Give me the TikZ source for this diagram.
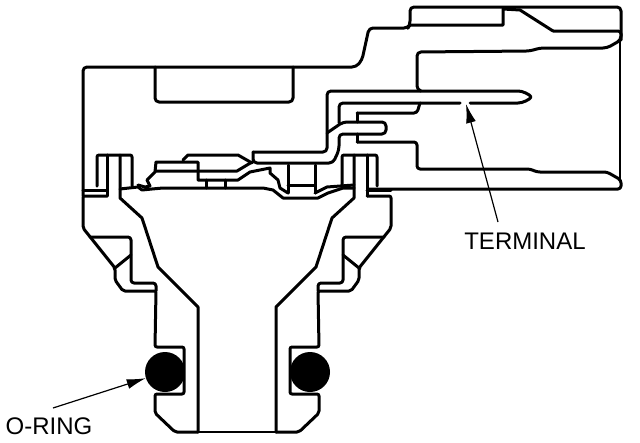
\documentclass[tikz,border=0pt]{standalone}
\usepackage{fontspec}
\setmainfont{Liberation Sans}
\usetikzlibrary{arrows.meta}
\tikzset{
  wall/.style={line width=3pt,line join=round,line cap=round},
  hairline/.style={line width=1.3pt},
  pointer/.style={line width=1.2pt,-{Latex[length=19pt,width=10pt]}},
  oring/.style={circle,fill=black,draw=none,minimum size=40pt,inner sep=0pt},
  callout/.style={font=\fontsize{24}{26}\selectfont,inner sep=0pt}
}
% one half of the port, drawn for the left side
\newcommand{\porthalf}{
  % post
  \draw[wall,rounded corners=2pt] (97,186) -- (97,155) -- (132,155) -- (132,186);
  \draw[wall] (107,155) -- (107,196);
  % body inner edge
  \draw[wall] (120,155) -- (120,198) -- (142,218) -- (158,267) -- (198,307) -- (198,432);
  % housing skirt
  \draw[wall] (83,190) -- (107,190);
  \draw[wall,rounded corners=2pt] (107,196) -- (83,196) -- (83,228) -- (115,268) -- (115,280) -- (123,291) -- (156,291) -- (155,347) -- (184,347)
    -- (184,394) -- (155,394) -- (155,413) -- (175,432) -- (198,432);
  \draw[wall,rounded corners=3pt] (90,237) -- (131,237) -- (131,283) -- (156,283) -- (156,291);
  \draw[wall] (115,268) -- (131,255);
}
\begin{document}
\begin{tikzpicture}[x=1pt,y=-1pt]
  \useasboundingbox (0,0) rectangle (640,442);
  % both halves
  \porthalf
  \begin{scope}[shift={(474,0)},xscale=-1]
    \porthalf
  \end{scope}
  \draw[hairline] (198,432) -- (276,432);
  % shell
  \draw[wall,rounded corners=4pt] (83,196) -- (83,67) -- (356,67)
    -- (362,60) -- (369,28) -- (408,28) -- (410,25) -- (410,7) -- (621,7) -- (621,40) -- (607,48) -- (540,48) -- (530,51)
    -- (417,52) -- (417,90) -- (421,91);
  \draw[wall,rounded corners=4pt] (155,67) -- (155,102) -- (293,102) -- (293,67);
  \draw[wall] (410,25) -- (503,25) -- (503,9) -- (520,10) -- (553,31);
  \draw[wall,rounded corners=3pt] (553,31) -- (621,31) -- (621,40);
  \draw[hairline] (620,40) -- (620,182);
  \draw[wall,rounded corners=3pt] (357,113) -- (417,113) -- (420,103);
  \draw[wall] (357,113) -- (357,122);
  \draw[wall] (357,134) -- (357,142);
  \draw[wall,rounded corners=3pt] (357,142) -- (417,142) -- (417,169) -- (530,169) -- (537,172) -- (607,172) -- (621,180)
    -- (621,189) -- (368,189);
  % terminal
  \draw[wall,rounded corners=4pt] (253,152) -- (327,152) -- (327,91) -- (522,91) -- (533,97) -- (522,103) -- (470,103);
  \draw[wall,rounded corners=4pt] (460,103) -- (339,103) -- (339,123);
  \draw[wall,rounded corners=4pt] (253,152) -- (253,163) -- (333,163) -- (339,150) -- (339,134) -- (386,134)
    -- (386,122) -- (343,122) -- (327,133);
  % floor of the cavity
  \draw[wall] (120,189) -- (138,187) -- (142,190) -- (152,189) -- (163,188) -- (263,188) -- (273,190) -- (283,198)
    -- (318,198) -- (328,193) -- (343,188) -- (354,188);
  \draw[wall] (138,185) -- (145,187) -- (150,186) -- (147,180) -- (155,172) -- (156,162) -- (198,162) -- (198,180)
    -- (238,180) -- (250,172) -- (270,168) -- (270,173) -- (278,180) -- (280,188) -- (288,193);
  \draw[wall] (156,171) -- (237,171) -- (252,162);
  \draw[wall] (183,160) -- (188,155) -- (238,155) -- (252,163);
  \draw[wall] (206,180) -- (206,188);
  \draw[wall] (225,180) -- (225,188);
  \draw[wall] (288,165) -- (288,193) (315,165) -- (315,193) (288,185) -- (315,185);
  \draw[wall] (315,193) -- (327,187) -- (354,185);
  % seals and callouts
  \node[oring] (ringleft) at (165,372) {};
  \node[oring] (ringright) at (310,372) {};
  \node[callout] (terminallabel) at (525,241) {TERMINAL};
  \node[callout] (oringlabel) at (49,426) {O-RING};
  \coordinate (terminaltail) at (498,222);
  \coordinate (terminaltip) at (466,104);
  \coordinate (oringtail) at (53,408);
  \draw[pointer] (terminaltail) -- (terminaltip);
  \draw[pointer] (oringtail) -- (ringleft);
\end{tikzpicture}
\end{document}
